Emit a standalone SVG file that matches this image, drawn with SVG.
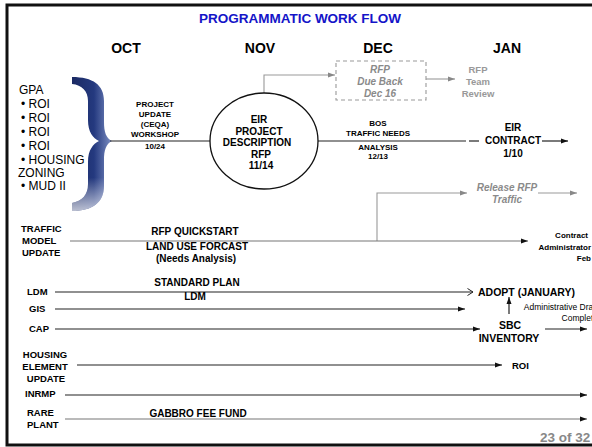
<svg xmlns="http://www.w3.org/2000/svg" width="592" height="447" viewBox="0 0 592 447">
<defs>
<style>
text{font-family:"Liberation Sans",Arial,sans-serif;}
.b{font-weight:bold;}
.m{text-anchor:middle;}
.e{text-anchor:end;}
.gi{font-style:italic;font-weight:bold;fill:#8a8a8a;}
.ln{stroke:#222;stroke-width:1.2;fill:none;}
.lg{stroke:#777;stroke-width:1.2;fill:none;}
.lc{stroke:#999;stroke-width:1.1;fill:none;}
</style>
<marker id="ab" markerUnits="userSpaceOnUse" markerWidth="7" markerHeight="6" refX="7" refY="3" orient="auto"><path d="M0,0.5 L7,3 L0,5.5 Z" fill="#111"/></marker>
<marker id="ag" markerUnits="userSpaceOnUse" markerWidth="7" markerHeight="6" refX="7" refY="3" orient="auto"><path d="M0,0.5 L7,3 L0,5.5 Z" fill="#888"/></marker>
<marker id="ao" markerUnits="userSpaceOnUse" markerWidth="7" markerHeight="8" refX="6" refY="4" orient="auto"><path d="M0.5,0.5 L6,4 L0.5,7.5" fill="none" stroke="#222" stroke-width="1"/></marker>
<linearGradient id="br" x1="0" y1="0" x2="1" y2="0">
<stop offset="0" stop-color="#1b2a63"/>
<stop offset="0.55" stop-color="#24397f"/>
<stop offset="1" stop-color="#7e90c4"/>
</linearGradient>
<linearGradient id="brv" x1="0" y1="0" x2="0" y2="1">
<stop offset="0.75" stop-color="#fff" stop-opacity="0"/>
<stop offset="1" stop-color="#fff" stop-opacity="0.7"/>
</linearGradient>
</defs>
<rect x="0" y="0" width="592" height="447" fill="#fff"/>
<rect x="7" y="5" width="600" height="440" fill="none" stroke="#111" stroke-width="3"/>

<text class="b m" x="300" y="23" font-size="13.5" fill="#1414c8">PROGRAMMATIC WORK FLOW</text>
<g id="months" class="b m" font-size="14">
<text x="126" y="53">OCT</text>
<text x="260" y="53">NOV</text>
<text x="378" y="53">DEC</text>
<text x="507" y="53">JAN</text>
</g>

<g id="gpa" font-size="12">
<text x="19" y="94">GPA</text>
<text x="21" y="108">• ROI</text>
<text x="21" y="122">• ROI</text>
<text x="21" y="136">• ROI</text>
<text x="21" y="150">• ROI</text>
<text x="21" y="164">• HOUSING</text>
<text x="18" y="177">ZONING</text>
<text x="21" y="190">• MUD II</text>
</g>

<g id="brace">
<path d="M72,77 C93,77 104,85 104,101 L104,122 C104,132 106,138 112,141 C106,144 104,150 104,160 L104,186 C104,202 93,211 72,211 L72,203 C82,201 88,195 88,184 L88,162 C88,150 93,144 99,141 C93,138 88,132 88,120 L88,101 C88,91 82,85 72,84 Z" fill="url(#br)"/>
<path d="M72,77 C93,77 104,85 104,101 L104,122 C104,132 106,138 112,141 C106,144 104,150 104,160 L104,186 C104,202 93,211 72,211 L72,203 C82,201 88,195 88,184 L88,162 C88,150 93,144 99,141 C93,138 88,132 88,120 L88,101 C88,91 82,85 72,84 Z" fill="url(#brv)"/>
</g>

<g id="connectors">
<line class="ln" x1="110" y1="141" x2="210" y2="141"/>
<line class="ln" x1="318" y1="141" x2="466" y2="141"/>
<line class="ln" x1="469" y1="141" x2="479" y2="141"/>
<line class="ln" x1="542" y1="141" x2="568" y2="141" marker-end="url(#ab)"/>
<polyline class="lc" points="264,93 264,75 335,75" marker-end="url(#ag)"/>
<line class="lc" x1="426" y1="79" x2="455" y2="79" marker-end="url(#ag)"/>
<polyline class="lc" points="377,241 377,193 467,193" marker-end="url(#ag)"/>
<line class="lc" x1="538" y1="193" x2="577" y2="193" marker-end="url(#ag)"/>
<line class="lg" x1="70" y1="241" x2="528" y2="241" marker-end="url(#ab)"/>
<line class="ln" x1="55" y1="292" x2="473" y2="292" marker-end="url(#ao)"/>
<line class="ln" x1="55" y1="309" x2="465" y2="309" marker-end="url(#ab)"/>
<line class="ln" x1="55" y1="329" x2="480" y2="329" marker-end="url(#ab)"/>
<line class="ln" x1="509" y1="314" x2="509" y2="297" marker-end="url(#ab)"/>
<line class="ln" x1="545" y1="329" x2="587" y2="329" marker-end="url(#ab)"/>
<line class="ln" x1="77" y1="365" x2="502" y2="365" marker-end="url(#ab)"/>
<line class="ln" x1="65" y1="395" x2="587" y2="395" marker-end="url(#ab)"/>
<line class="lg" x1="65" y1="419" x2="587" y2="419" marker-end="url(#ab)"/>
</g>

<g id="workshop" class="b m" font-size="8">
<text x="155" y="107">PROJECT</text>
<text x="155" y="117">UPDATE</text>
<text x="155" y="127">(CEQA)</text>
<text x="155" y="137">WORKSHOP</text>
<text x="155" y="149">10/24</text>
</g>

<g id="eir-project">
<ellipse cx="264" cy="141" rx="54" ry="48" fill="none" stroke="#111" stroke-width="1.3"/>
<g class="b m" font-size="10">
<text x="259" y="123">EIR</text>
<text x="259" y="134.5">PROJECT</text>
<text x="257" y="146">DESCRIPTION</text>
<text x="261" y="157.5">RFP</text>
<text x="261" y="169">11/14</text>
</g>
</g>

<g id="rfp-due">
<rect x="336" y="61" width="90" height="39" fill="none" stroke="#999" stroke-width="1.1" stroke-dasharray="4,3"/>
<g class="gi m" font-size="10">
<text x="380" y="73">RFP</text>
<text x="380" y="85">Due Back</text>
<text x="380" y="97">Dec 16</text>
</g>
</g>

<g id="rfp-team" class="b m" font-size="9.5" fill="#999">
<text x="478" y="73">RFP</text>
<text x="478" y="85">Team</text>
<text x="478" y="97">Review</text>
</g>

<g id="bos" class="b m" font-size="8">
<text x="378" y="126">BOS</text>
<text x="378" y="136">TRAFFIC NEEDS</text>
<text x="378" y="150">ANALYSIS</text>
<text x="378" y="159">12/13</text>
</g>

<g id="eir-contract" class="b m" font-size="10">
<text x="513" y="131">EIR</text>
<text x="513" y="144">CONTRACT</text>
<text x="513" y="157">1/10</text>
</g>

<g id="release-rfp" class="gi m" font-size="10">
<text x="507" y="191">Release RFP</text>
<text x="507" y="203">Traffic</text>
</g>

<g id="traffic" class="b" font-size="9.5">
<text x="21" y="232">TRAFFIC</text>
<text x="22" y="244">MODEL</text>
<text x="22" y="256">UPDATE</text>
</g>
<g id="traffic-labels" class="b m" font-size="10">
<text x="195" y="235">RFP QUICKSTART</text>
<text x="197" y="250">LAND USE FORCAST</text>
<text x="196" y="262">(Needs Analysis)</text>
</g>

<g id="contract-admin" class="b e" font-size="8">
<text x="588" y="238">Contract</text>
<text x="591" y="250">Administrator</text>
<text x="591" y="261">Feb</text>
</g>

<g id="ldm" class="b" font-size="9.5">
<text x="27" y="295">LDM</text>
<text x="29" y="312">GIS</text>
<text x="29" y="332">CAP</text>
</g>
<g id="std-plan" class="b m" font-size="10">
<text x="197" y="286">STANDARD PLAN</text>
<text x="195" y="300">LDM</text>
</g>

<g id="adopt" class="b" font-size="10.5">
<text x="478" y="296">ADOPT (JANUARY)</text>
</g>
<g id="admin-draft" class="e" font-size="8.5">
<text x="598" y="310">Administrative Draft</text>
<text x="598" y="321">Complete</text>
</g>
<g id="sbc" class="b m" font-size="10.5">
<text x="510" y="329">SBC</text>
<text x="509" y="342">INVENTORY</text>
</g>

<g id="housing" class="b m" font-size="9.5">
<text x="45" y="358">HOUSING</text>
<text x="45" y="370">ELEMENT</text>
<text x="46" y="382">UPDATE</text>
</g>
<g id="roi"><text class="b" x="512" y="369" font-size="9.5">ROI</text></g>

<g id="inrmp"><text class="b" x="25" y="397" font-size="9.5">INRMP</text></g>
<g id="rare" class="b" font-size="9.5">
<text x="27" y="416">RARE</text>
<text x="27" y="428">PLANT</text>
</g>
<text class="b m" x="198" y="417" font-size="10">GABBRO FEE FUND</text>

<text class="b" x="540" y="442" font-size="13.5" fill="#888">23 of 32</text>
</svg>
